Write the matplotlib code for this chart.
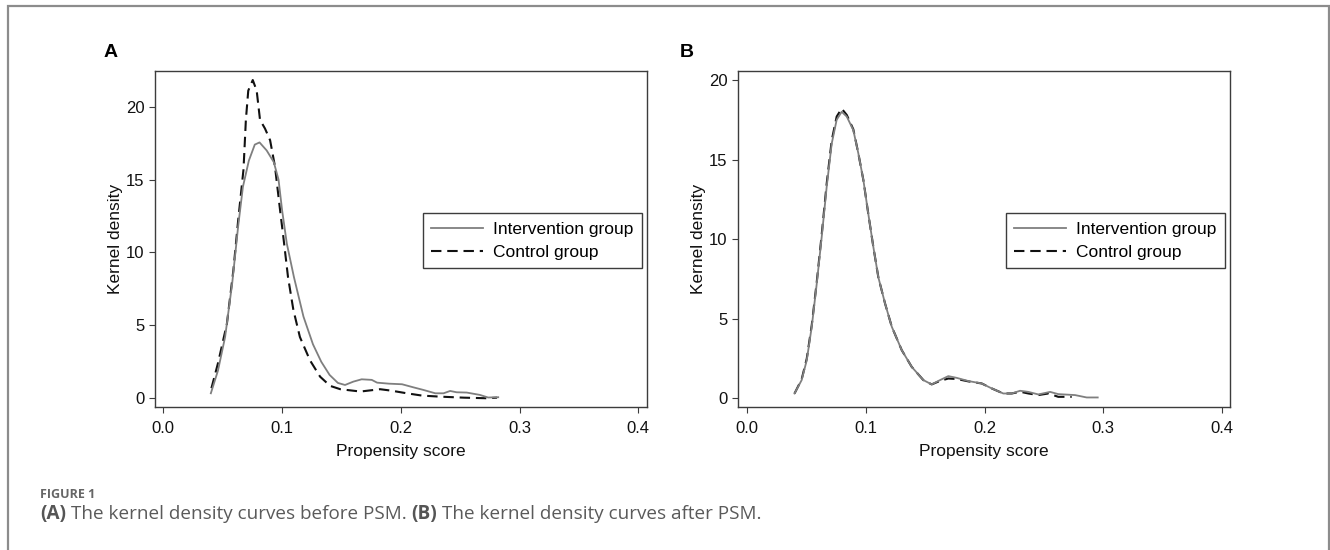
import matplotlib
matplotlib.use("Agg")
import matplotlib.pyplot as plt
from matplotlib.patches import Rectangle
from matplotlib.ticker import FormatStrFormatter

# ---------------- data ----------------
# Panel A: before PSM
intA_x = [0.040, 0.046, 0.052, 0.058, 0.063, 0.067, 0.072, 0.077, 0.081, 0.087,
          0.093, 0.097, 0.100, 0.104, 0.110, 0.118, 0.126, 0.133, 0.140, 0.147,
          0.153, 0.160, 0.167, 0.1755, 0.180, 0.190, 0.201, 0.2105, 0.219, 0.229,
          0.236, 0.2415, 0.247, 0.2555, 0.2665, 0.2735, 0.282]
intA_y = [0.34, 1.9, 4.2, 7.9, 11.8, 14.5, 16.3, 17.4, 17.55, 17.0,
          16.2, 15.0, 12.9, 10.6, 8.3, 5.6, 3.7, 2.5, 1.6, 1.05,
          0.91, 1.14, 1.30, 1.26, 1.07, 1.00, 0.96, 0.75, 0.57, 0.34,
          0.34, 0.50, 0.41, 0.39, 0.23, 0.05, 0.07]

ctlA_x = [0.0405, 0.046, 0.0535, 0.059, 0.063, 0.0675, 0.0695, 0.0715, 0.0753, 0.0786,
          0.0814, 0.0856, 0.0899, 0.094, 0.0983, 0.101, 0.105, 0.1095, 0.115, 0.1235,
          0.132, 0.1404, 0.149, 0.166, 0.1825, 0.192, 0.205, 0.218, 0.233, 0.253,
          0.272, 0.281]
ctlA_y = [0.69, 2.4, 5.1, 8.8, 12.2, 15.7, 19.1, 21.1, 21.83, 21.1,
          19.1, 18.5, 17.7, 15.9, 12.9, 11.1, 8.3, 6.06, 4.2, 2.6,
          1.48, 0.85, 0.62, 0.46, 0.62, 0.52, 0.34, 0.18, 0.11, 0.04,
          0.0, 0.04]

# Panel B: after PSM
intB_x = [0.040, 0.046, 0.0503, 0.0545, 0.0587, 0.0629, 0.0671, 0.0713, 0.0755, 0.0797,
          0.084, 0.0895, 0.0937, 0.098, 0.1021, 0.1064, 0.1106, 0.1162, 0.1219, 0.1303,
          0.1387, 0.1485, 0.1555, 0.1625, 0.1695, 0.1766, 0.1864, 0.1976, 0.206, 0.2158,
          0.2229, 0.2299, 0.2369, 0.2453, 0.2552, 0.2621, 0.2762, 0.286, 0.2953]
intB_y = [0.31, 1.15, 2.4, 4.5, 7.2, 10.15, 13.3, 16.0, 17.5, 18.0,
          17.7, 16.85, 15.4, 13.7, 11.6, 9.5, 7.6, 5.97, 4.5, 3.03,
          1.98, 1.15, 0.88, 1.15, 1.40, 1.29, 1.09, 0.94, 0.63, 0.31,
          0.31, 0.48, 0.41, 0.25, 0.41, 0.27, 0.21, 0.06, 0.06]

ctlB_x = [0.040, 0.046, 0.0503, 0.0545, 0.0587, 0.0629, 0.0671, 0.0713, 0.0755, 0.0797,
          0.084, 0.0895, 0.0937, 0.098, 0.1021, 0.1064, 0.1106, 0.1162, 0.1219, 0.1303,
          0.1387, 0.1485, 0.1555, 0.1625, 0.1695, 0.1766, 0.1864, 0.1976, 0.206, 0.2158,
          0.2229, 0.2299, 0.2369, 0.2453, 0.2538, 0.2621, 0.2734]
ctlB_y = [0.31, 1.2, 2.5, 4.6, 7.3, 10.3, 13.5, 16.2, 17.7, 18.2,
          17.8, 16.9, 15.4, 13.7, 11.6, 9.5, 7.6, 5.97, 4.5, 3.03,
          1.98, 1.15, 0.88, 1.10, 1.25, 1.22, 1.07, 0.94, 0.63, 0.31,
          0.31, 0.42, 0.31, 0.21, 0.31, 0.10, 0.10]

x_ticks = [0.0, 0.1, 0.2, 0.3, 0.4]
y_ticks = [0, 5, 10, 15, 20]
series_labels = ["Intervention group", "Control group"]
panel_letters = ["A", "B"]
x_label = "Propensity score"
y_label = "Kernel density"
fig_label = "FIGURE 1"
caption_parts = [("(A)", "bold"), ("The kernel density curves before PSM.", "normal"),
                 ("(B)", "bold"), ("The kernel density curves after PSM.", "normal")]

# ---------------- figure ----------------
W, H = 1330, 550
plt.rcParams["font.family"] = ["Liberation Sans", "DejaVu Sans"]
fig = plt.figure(figsize=(W / 100, H / 100), dpi=100)
fig.patch.set_facecolor("white")

# outer grey border
fig.patches.append(Rectangle((7.5 / W, -0.05), (1328.5 - 7.5) / W, 1 - 5.5 / H + 0.05,
                             transform=fig.transFigure, fill=False,
                             edgecolor="#8c8c8c", linewidth=1.6))

frame_col = "#3c3c3c"

def px_axes(l, t, r, b):
    return [l / W, 1 - b / H, (r - l) / W, (b - t) / H]

panels = [
    dict(rect=px_axes(154.8, 70.7, 647, 406.7), xlim=(-0.0072, 0.4073), ylim=(-0.58, 22.47),
         data=(intA_x, intA_y, ctlA_x, ctlA_y), letter_x=104),
    dict(rect=px_axes(738, 70.7, 1230, 406.7), xlim=(-0.0076, 0.4067), ylim=(-0.52, 20.58),
         data=(intB_x, intB_y, ctlB_x, ctlB_y), letter_x=680),
]

for p, letter in zip(panels, panel_letters):
    ax = fig.add_axes(p["rect"])
    ix, iy, cx, cy = p["data"]
    ax.plot(ix, iy, color="#7f7f7f", lw=1.3, solid_joinstyle="round",
            label=series_labels[0], zorder=3)
    ax.plot(cx, cy, color="#111111", lw=1.5, linestyle=(0, (5, 2.8)),
            dash_joinstyle="round", label=series_labels[1], zorder=2)
    ax.set_xlim(*p["xlim"])
    ax.set_ylim(*p["ylim"])
    ax.set_xticks(x_ticks)
    ax.set_yticks(y_ticks)
    ax.xaxis.set_major_formatter(FormatStrFormatter("%.1f"))
    for s in ax.spines.values():
        s.set_color(frame_col)
        s.set_linewidth(1.0)
    ax.tick_params(direction="out", length=4.5, width=0.8, color=frame_col,
                   labelsize=12, labelcolor="#111111")
    ax.tick_params(axis="x", pad=5.5)
    ax.tick_params(axis="y", pad=3)
    ax.set_xlabel(x_label, fontsize=12.5, labelpad=6, color="#111111")
    ax.set_ylabel(y_label, fontsize=12.5, labelpad=2, color="#111111")
    leg = ax.legend(loc="upper right", bbox_to_anchor=(0.9898, 0.5765),
                    borderaxespad=0, fancybox=False, framealpha=1,
                    edgecolor=frame_col, fontsize=12.5, handlelength=3.0,
                    handletextpad=0.55, borderpad=0.5, labelspacing=0.45)
    leg.get_frame().set_linewidth(1.0)
    fig.text(p["letter_x"] / W, 1 - 57 / H, letter, fontsize=14, fontweight="bold",
             va="baseline", ha="left", color="black")

# ---------------- caption ----------------
cap_font = ["Open Sans", "DejaVu Sans"]
fig.text(40 / W, 1 - 495 / H, fig_label, fontsize=9, fontweight="bold",
         family=cap_font, color="#666666", va="center", ha="left")

cap_size = 13.6
renderer = fig.canvas.get_renderer()
probe = fig.text(0, 0, "x x", fontsize=cap_size, family=cap_font)
w2 = probe.get_window_extent(renderer).width
probe.set_text("xx")
w1 = probe.get_window_extent(renderer).width
probe.remove()
space_w = w2 - w1

x = 40.0
y_cap = 1 - 514 / H
for i, (txt, wt) in enumerate(caption_parts):
    t = fig.text(x / W, y_cap, txt, fontsize=cap_size, fontweight=wt, family=cap_font,
                 color="#555555" if wt == "bold" else "#5a5a5a", va="center", ha="left")
    ext = t.get_window_extent(renderer)
    x = ext.x1 + space_w

fig.savefig("out.png", dpi=100)
